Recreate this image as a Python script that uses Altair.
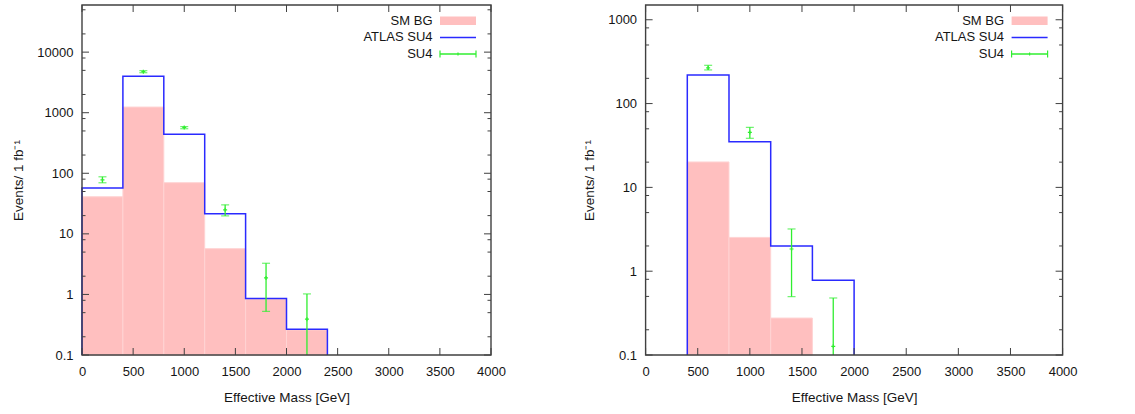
import altair as alt
import pandas as pd

# ---- shared binning (effective mass, GeV) ----
edges = [0, 400, 800, 1200, 1600, 2000, 2400]
centers = [200, 600, 1000, 1400, 1800, 2200]

# ---- left panel ----
bg_left = [41.0, 1240.0, 70.0, 5.7, 0.84, 0.26]
atlas_left = [57.0, 4000.0, 440.0, 21.5, 0.86, 0.265]
su4_left = [78.0, 4760.0, 571.0, 24.9, 1.87, 0.39]
su4_left_lo = [69.7, 4575.0, 544.0, 19.8, 0.525, 0.1]
su4_left_hi = [87.5, 4946.0, 590.0, 30.1, 3.27, 1.02]

# ---- right panel ----
bg_right = [0.0, 20.1, 2.53, 0.276, 0.0, 0.0]
atlas_right = [0.0, 219.0, 35.1, 2.0, 0.78, 0.0]
su4_right_x = [600, 1000, 1400, 1800]
su4_right = [266.0, 45.3, 1.84, 0.127]
su4_right_lo = [252.0, 38.5, 0.497, 0.1]
su4_right_hi = [286.0, 52.0, 3.19, 0.479]

# ---- axes ----
x_major = [0, 500, 1000, 1500, 2000, 2500, 3000, 3500, 4000]
y_major_left = [0.1, 1, 10, 100, 1000, 10000]
y_minor_left = [0.2, 0.5, 0.8, 2, 5, 8, 20, 50, 80, 200, 500, 800,
                2000, 5000, 8000, 20000, 50000]
y_major_right = [0.1, 1, 10, 100, 1000]
y_minor_right = [0.2, 0.5, 0.8, 2, 5, 8, 20, 50, 80, 200, 500, 800]

FONT = "Liberation Sans"
PINK = "#ffbfbf"
PINK_EDGE = "#ffd3d3"
BLUE = "#2a2aff"
GREEN = "#30ee30"
FRAME = "#404040"
TEXT = "#151515"

one = pd.DataFrame({"k": [0]})


def step_points(values, floor):
    nz = [i for i, v in enumerate(values) if v > 0]
    first, last = nz[0], nz[-1]
    pts = [(edges[first], floor)]
    for i in range(first, last + 1):
        pts.append((edges[i], values[i]))
        pts.append((edges[i + 1], values[i]))
    pts.append((edges[last + 1], floor))
    return pd.DataFrame({"m": [p[0] for p in pts], "n": [p[1] for p in pts],
                         "k": list(range(len(pts)))})


def panel(bg, atlas, sx, s, slo, shi, y_max, y_major, y_minor, W, H, title_x):
    xs = alt.Scale(domain=[0, 4000], nice=False, zero=False)
    ys = alt.Scale(type="log", domain=[0.1, y_max], nice=False)
    x_axis = alt.Axis(values=x_major, format="d", labelFlush=False, ticks=False,
                      domain=False, grid=False, labelPadding=10, labelFontSize=13,
                      labelFont=FONT, labelColor=TEXT, title="Effective Mass [GeV]",
                      titleFont=FONT, titleFontSize=13.5, titleFontWeight="normal",
                      titleColor=TEXT, titleX=W / 2, titleY=46.5,
                      titleBaseline="alphabetic", titleAlign="center")
    y_axis = alt.Axis(values=y_major, format="~g", labelFlush=False, ticks=False,
                      domain=False, grid=False, labelPadding=9, labelFontSize=13,
                      labelFont=FONT, labelColor=TEXT, labelBaseline="middle",
                      title="Events/ 1 fb⁻¹", titleFont=FONT, titleFontSize=13.5,
                      titleFontWeight="normal", titleColor=TEXT, titleX=title_x,
                      titleY=H / 2, titleAngle=270, titleBaseline="alphabetic",
                      titleAlign="center")

    def X(f):
        return alt.X(f, type="quantitative", scale=xs, axis=x_axis)

    def Y(f):
        return alt.Y(f, type="quantitative", scale=ys, axis=y_axis)

    bars = pd.DataFrame({"lo": edges[:-1], "hi": edges[1:], "v": bg})
    bars = bars[bars["v"] > 0]
    sm = alt.Chart(bars).mark_rect(color=PINK, stroke=PINK_EDGE, strokeWidth=1).encode(
        x=X("lo"), x2="hi", y=Y("v"), y2=alt.value(H))

    steps = alt.Chart(step_points(atlas, 0.1)).mark_line(
        color=BLUE, strokeWidth=1.5, interpolate="linear").encode(
        x=X("m"), y=Y("n"), order=alt.Order("k:Q"))

    err = pd.DataFrame({"c": sx, "v": s, "lo": slo, "hi": shi})
    bar = alt.Chart(err).mark_rule(color=GREEN, strokeWidth=1.3).encode(
        x=X("c"), y=Y("lo"), y2="hi")
    cap_hi = alt.Chart(err).mark_tick(color=GREEN, orient="horizontal", size=8,
                                      thickness=1.2).encode(x=X("c"), y=Y("hi"))
    cap_lo = alt.Chart(err).transform_filter("datum.lo > 0.1").mark_tick(
        color=GREEN, orient="horizontal", size=8, thickness=1.2).encode(
        x=X("c"), y=Y("lo"))
    mid = alt.Chart(err).mark_point(shape="M-1,0L1,0M0,-1L0,1", size=16,
                                    filled=False, color=GREEN, strokeWidth=1.2,
                                    opacity=1).encode(x=X("c"), y=Y("v"))

    # inward, mirrored tick marks
    def yticks(vals, length):
        d = pd.DataFrame({"t": vals})
        left = alt.Chart(d).mark_rule(color=FRAME, strokeWidth=1).encode(
            y=Y("t"), x=alt.value(0), x2=alt.value(length))
        right = alt.Chart(d).mark_rule(color=FRAME, strokeWidth=1).encode(
            y=Y("t"), x=alt.value(W - length), x2=alt.value(W))
        return [left, right]

    xd = pd.DataFrame({"t": x_major})
    xt_bottom = alt.Chart(xd).mark_rule(color=FRAME, strokeWidth=1).encode(
        x=X("t"), y=alt.value(H), y2=alt.value(H - 7))
    xt_top = alt.Chart(xd).mark_rule(color=FRAME, strokeWidth=1).encode(
        x=X("t"), y=alt.value(0), y2=alt.value(7))

    frame = alt.Chart(one).mark_rect(fill=None, stroke=FRAME, strokeWidth=1.4).encode(
        x=alt.value(0), x2=alt.value(W), y=alt.value(0), y2=alt.value(H))

    # key, top right
    tx = W - 58.5
    s0, s1 = W - 51, W - 15
    rows = [15.8, 32.4, 49.0]
    key = []
    for label, r in zip(["SM BG", "ATLAS SU4", "SU4"], rows):
        key.append(alt.Chart(one).mark_text(
            text=label, align="right", baseline="middle", font=FONT, fontSize=13,
            color=TEXT).encode(x=alt.value(tx), y=alt.value(r)))
    key.append(alt.Chart(one).mark_rect(color=PINK).encode(
        x=alt.value(s0), x2=alt.value(s1), y=alt.value(rows[0] - 4.3),
        y2=alt.value(rows[0] + 4.3)))
    key.append(alt.Chart(one).mark_rule(color=BLUE, strokeWidth=1.5).encode(
        x=alt.value(s0), x2=alt.value(s1), y=alt.value(rows[1])))
    key.append(alt.Chart(one).mark_rule(color=GREEN, strokeWidth=1.3).encode(
        x=alt.value(s0), x2=alt.value(s1), y=alt.value(rows[2])))
    for xx, half in [(s0, 3.5), (s1, 3.5), ((s0 + s1) / 2, 1.5)]:
        key.append(alt.Chart(one).mark_rule(color=GREEN, strokeWidth=1.2).encode(
            x=alt.value(xx), y=alt.value(rows[2] - half), y2=alt.value(rows[2] + half)))

    layers = [sm, steps, bar, cap_hi, cap_lo, mid] + yticks(y_major, 7) + \
        yticks(y_minor, 3.5) + [xt_bottom, xt_top, frame] + key
    return alt.layer(*layers).properties(width=W, height=H)


left = panel(bg_left, atlas_left, centers, su4_left, su4_left_lo, su4_left_hi,
             60000, y_major_left, y_minor_left, 409, 350, -60)
right = panel(bg_right, atlas_right, su4_right_x, su4_right, su4_right_lo,
              su4_right_hi, 1500, y_major_right, y_minor_right, 417, 350, -52.3)

chart = alt.hconcat(left, right, spacing=154.6, bounds="flush").properties(
    padding={"left": 11, "top": 4, "right": 5, "bottom": 5},
    background="white",
).configure_view(stroke=None)

chart.save("out.html", embed_options={"renderer": "svg", "actions": False})
